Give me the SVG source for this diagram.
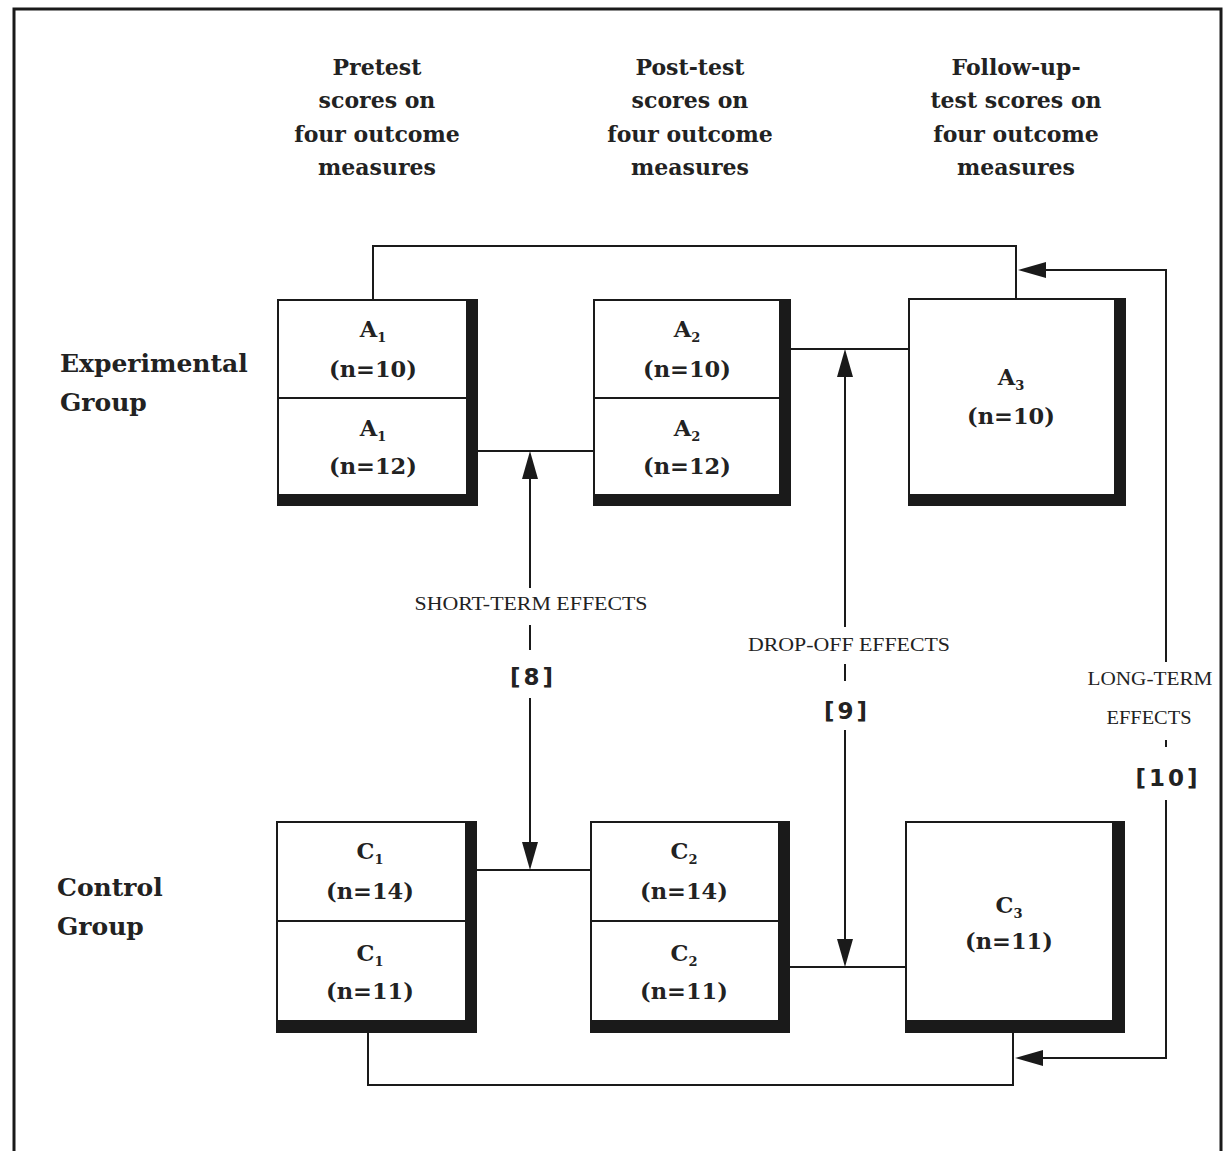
<svg xmlns="http://www.w3.org/2000/svg" width="1230" height="1151" viewBox="0 0 1230 1151">
<style>
.hdr{font-family:"DejaVu Serif","Liberation Serif",serif;font-weight:bold;font-size:22px;fill:#222;text-anchor:middle}
.grp{font-family:"DejaVu Serif","Liberation Serif",serif;font-weight:bold;font-size:25px;fill:#222}
.nt{font-family:"DejaVu Serif","Liberation Serif",serif;font-weight:bold;font-size:22.5px;fill:#222;text-anchor:middle}
.sub{font-size:13px}
.lbl{font-family:"Liberation Serif","DejaVu Serif",serif;font-size:18px;fill:#222;text-anchor:middle}
.num{font-family:"DejaVu Sans","Liberation Sans",sans-serif;font-weight:bold;font-size:23px;fill:#222;text-anchor:middle;letter-spacing:3px}
.box{fill:#fff;stroke:#1a1a1a;stroke-width:2}
.shadow{fill:#1a1a1a}
.ln{stroke:#1a1a1a;stroke-width:2;fill:none}
.div{stroke:#1a1a1a;stroke-width:2}
.ah{fill:#1a1a1a}
</style>
<rect width="1230" height="1151" fill="#fff"/>
<rect x="14" y="9" width="1207" height="1160" fill="none" stroke="#1a1a1a" stroke-width="3"/>

<g id="headers">
<text class="hdr" x="377" y="75">Pretest</text>
<text class="hdr" x="377" y="108">scores on</text>
<text class="hdr" x="377" y="142">four outcome</text>
<text class="hdr" x="377" y="175">measures</text>
<text class="hdr" x="690" y="75">Post-test</text>
<text class="hdr" x="690" y="108">scores on</text>
<text class="hdr" x="690" y="142">four outcome</text>
<text class="hdr" x="690" y="175">measures</text>
<text class="hdr" x="1016" y="75">Follow-up-</text>
<text class="hdr" x="1016" y="108">test scores on</text>
<text class="hdr" x="1016" y="142">four outcome</text>
<text class="hdr" x="1016" y="175">measures</text>
</g>

<g id="group-labels">
<text class="grp" x="60" y="372">Experimental</text>
<text class="grp" x="60" y="411">Group</text>
<text class="grp" x="57" y="896">Control</text>
<text class="grp" x="57" y="935">Group</text>
</g>

<g id="connectors">
<polyline class="ln" points="373,299 373,246 1016,246 1016,299"/>
<polyline class="ln" points="368,1032 368,1085 1013,1085 1013,1032"/>
<polyline class="ln" points="1040,270 1166,270 1166,662"/>
<line class="ln" x1="1166" y1="740" x2="1166" y2="747"/>
<polyline class="ln" points="1166,800 1166,1058 1040,1058"/>
<polygon class="ah" points="1018,270 1046,262 1046,278"/>
<polygon class="ah" points="1015,1058 1043,1050 1043,1066"/>
<line class="ln" x1="478" y1="451" x2="593" y2="451"/>
<line class="ln" x1="476" y1="870" x2="590" y2="870"/>
<line class="ln" x1="791" y1="349" x2="908" y2="349"/>
<line class="ln" x1="790" y1="967" x2="906" y2="967"/>
<line class="ln" x1="530" y1="470" x2="530" y2="588"/>
<line class="ln" x1="530" y1="625" x2="530" y2="650"/>
<line class="ln" x1="530" y1="698" x2="530" y2="850"/>
<polygon class="ah" points="530,451 522,479 538,479"/>
<polygon class="ah" points="530,870 522,842 538,842"/>
<line class="ln" x1="845" y1="370" x2="845" y2="627"/>
<line class="ln" x1="845" y1="664" x2="845" y2="681"/>
<line class="ln" x1="845" y1="730" x2="845" y2="947"/>
<polygon class="ah" points="845,349 837,377 853,377"/>
<polygon class="ah" points="845,967 837,939 853,939"/>
</g>

<g id="effect-labels">
<text class="lbl" x="531" y="610" textLength="233" lengthAdjust="spacingAndGlyphs">SHORT-TERM EFFECTS</text>
<text class="num" x="533" y="685">[8]</text>
<text class="lbl" x="849" y="651" textLength="202" lengthAdjust="spacingAndGlyphs">DROP-OFF EFFECTS</text>
<text class="num" x="847" y="719">[9]</text>
<text class="lbl" x="1150" y="685" textLength="125" lengthAdjust="spacingAndGlyphs">LONG-TERM</text>
<text class="lbl" x="1149" y="724" textLength="85" lengthAdjust="spacingAndGlyphs">EFFECTS</text>
<text class="num" x="1168" y="786">[10]</text>
</g>

<g id="node-A1">
<rect class="box" x="278" y="300" width="199" height="205"/>
<rect class="shadow" x="466" y="300" width="12" height="206"/>
<rect class="shadow" x="278" y="494" width="200" height="12"/>
<line class="div" x1="278" y1="398" x2="466" y2="398"/>
<text class="nt" x="373" y="337">A<tspan class="sub" dy="5">1</tspan></text>
<text class="nt" x="373" y="377">(n=10)</text>
<text class="nt" x="373" y="436">A<tspan class="sub" dy="5">1</tspan></text>
<text class="nt" x="373" y="474">(n=12)</text>
</g>

<g id="node-A2">
<rect class="box" x="594" y="300" width="196" height="205"/>
<rect class="shadow" x="779" y="300" width="12" height="206"/>
<rect class="shadow" x="594" y="494" width="197" height="12"/>
<line class="div" x1="594" y1="398" x2="779" y2="398"/>
<text class="nt" x="687" y="337">A<tspan class="sub" dy="5">2</tspan></text>
<text class="nt" x="687" y="377">(n=10)</text>
<text class="nt" x="687" y="436">A<tspan class="sub" dy="5">2</tspan></text>
<text class="nt" x="687" y="474">(n=12)</text>
</g>

<g id="node-A3">
<rect class="box" x="909" y="299" width="216" height="206"/>
<rect class="shadow" x="1114" y="299" width="12" height="207"/>
<rect class="shadow" x="909" y="494" width="217" height="12"/>
<text class="nt" x="1011" y="385">A<tspan class="sub" dy="5">3</tspan></text>
<text class="nt" x="1011" y="424">(n=10)</text>
</g>

<g id="node-C1">
<rect class="box" x="277" y="822" width="199" height="210"/>
<rect class="shadow" x="465" y="822" width="12" height="211"/>
<rect class="shadow" x="277" y="1020" width="200" height="13"/>
<line class="div" x1="277" y1="921" x2="465" y2="921"/>
<text class="nt" x="370" y="859">C<tspan class="sub" dy="5">1</tspan></text>
<text class="nt" x="370" y="899">(n=14)</text>
<text class="nt" x="370" y="961">C<tspan class="sub" dy="5">1</tspan></text>
<text class="nt" x="370" y="999">(n=11)</text>
</g>

<g id="node-C2">
<rect class="box" x="591" y="822" width="198" height="210"/>
<rect class="shadow" x="778" y="822" width="12" height="211"/>
<rect class="shadow" x="591" y="1020" width="199" height="13"/>
<line class="div" x1="591" y1="921" x2="778" y2="921"/>
<text class="nt" x="684" y="859">C<tspan class="sub" dy="5">2</tspan></text>
<text class="nt" x="684" y="899">(n=14)</text>
<text class="nt" x="684" y="961">C<tspan class="sub" dy="5">2</tspan></text>
<text class="nt" x="684" y="999">(n=11)</text>
</g>

<g id="node-C3">
<rect class="box" x="906" y="822" width="218" height="210"/>
<rect class="shadow" x="1112" y="822" width="12" height="211"/>
<rect class="shadow" x="906" y="1020" width="218" height="13"/>
<text class="nt" x="1009" y="913">C<tspan class="sub" dy="5">3</tspan></text>
<text class="nt" x="1009" y="949">(n=11)</text>
</g>
</svg>
